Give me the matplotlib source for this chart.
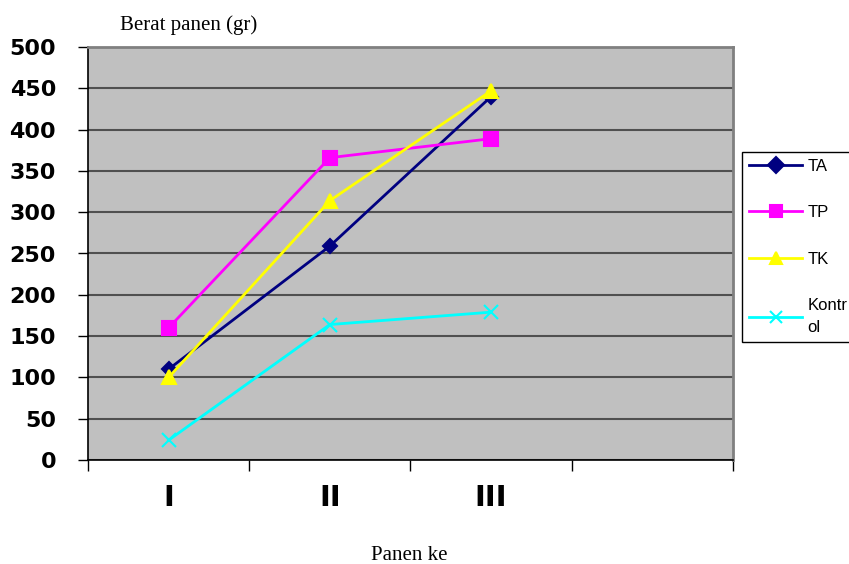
import matplotlib
matplotlib.use("Agg")
import matplotlib.pyplot as plt

categories = ["I", "II", "III", ""]
series_names = ["TA", "TP", "TK", "Kontr\nol"]
ta = [110, 259, 440]
tp = [160, 366, 389]
tk = [100, 314, 447]
kontrol = [24, 164, 179]
y_ticks = [0, 50, 100, 150, 200, 250, 300, 350, 400, 450, 500]

W, H = 849, 564
fig = plt.figure(figsize=(W / 100, H / 100), dpi=100)
ax = fig.add_axes([88 / W, (H - 460) / H, (733 - 88) / W, (460 - 47) / H])
ax.set_facecolor("#C0C0C0")

x = list(range(len(ta)))
styles = [
    (ta, "#000080", "D", 7),
    (tp, "#FF00FF", "s", 10),
    (tk, "#FFFF00", "^", 10),
    (kontrol, "#00FFFF", "x", 10),
]
handles = []
for (vals, col, mk, ms), name in zip(styles, series_names):
    ln, = ax.plot(x, vals, color=col, lw=2, marker=mk, markersize=ms,
                  markerfacecolor=col, markeredgecolor=col, markeredgewidth=1.5,
                  zorder=3, label=name)
    handles.append(ln)

ax.set_xlim(-0.5, len(categories) - 0.5)
ax.set_ylim(0, 500)
ax.set_yticks(y_ticks)
ax.set_yticklabels([str(v) for v in y_ticks], fontfamily="DejaVu Sans",
                   fontweight="bold", fontsize=16)
ax.yaxis.grid(True, color="#505050", lw=1.5, zorder=1)
ax.set_axisbelow(True)

ax.set_xticks([i - 0.5 for i in range(len(categories) + 1)])
ax.set_xticklabels([])
ax.set_xticks(range(len(categories)), minor=True)
ax.set_xticklabels(categories, minor=True, fontfamily="Liberation Sans Narrow",
                   fontweight="bold", fontsize=21)
ax.tick_params(axis="x", which="minor", length=0, pad=17)
ax.tick_params(axis="x", which="major", length=8, width=1, color="black", direction="out")
ax.tick_params(axis="y", length=7, width=1, color="black", direction="out", pad=16)

for s in ["left", "bottom"]:
    ax.spines[s].set_color("black")
    ax.spines[s].set_linewidth(1.2)
for s in ["top", "right"]:
    ax.spines[s].set_color("#808080")
    ax.spines[s].set_linewidth(2)

fig.text(120 / W, 1 - 25 / H, "Berat panen (gr)", fontfamily="Liberation Serif",
         fontsize=15, ha="left", va="center")
fig.text(409 / W, 1 - 556 / H, "Panen ke", fontfamily="Liberation Serif",
         fontsize=15, ha="center", va="center")

leg = fig.legend(handles=handles, labels=series_names, loc="upper left",
                 bbox_to_anchor=(742 / W, 1 - 152 / H), frameon=True,
                 fancybox=False, edgecolor="black", framealpha=1,
                 prop={"family": "Liberation Sans", "size": 12},
                 handlelength=3.2, handletextpad=0.3, labelspacing=1.88,
                 borderpad=0.42, borderaxespad=0)
leg.get_frame().set_linewidth(1)
for t in leg.get_texts():
    t.set_linespacing(1.6)
for lh in leg.legend_handles:
    lh.set_markersize(8)

fig.savefig("out.png", dpi=100)
